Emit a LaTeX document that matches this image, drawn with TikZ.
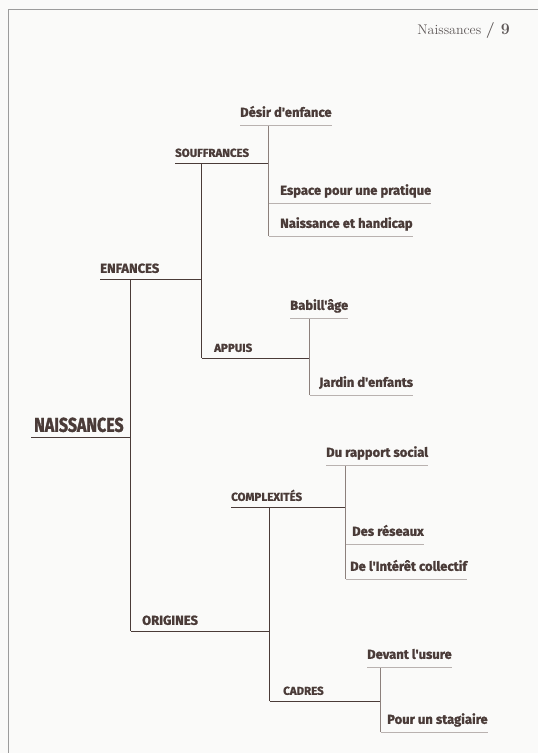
\documentclass[tikz,border=0pt]{standalone}
\usepackage{fontspec}
\newfontfamily\treefont{Fira Sans}[FakeBold=1.3]
\newfontfamily\rootfont{Fira Sans}[FakeStretch=0.8, FakeBold=1.5]
\definecolor{ink}{HTML}{4A3B38}
\definecolor{paleink}{HTML}{B9B2B0}
\definecolor{stemink}{HTML}{8C807C}
\definecolor{pagebg}{HTML}{FAFAF9}
\definecolor{edgegrey}{HTML}{9C9C9C}
\definecolor{headgrey}{HTML}{5E5858}

\begin{document}
\begin{tikzpicture}[x=1pt,y=-1pt]
  \tikzstyle{rootnode} = [anchor=south west, inner xsep=3pt, inner ysep=0pt, text depth=5pt, text=ink, font=\rootfont\bfseries\fontsize{20}{20}\selectfont]
  \tikzstyle{midnode} = [anchor=south west, inner sep=0pt, text depth=6pt, text=ink, font=\treefont\bfseries\fontsize{13}{13}\selectfont]
  \tikzstyle{subnode} = [anchor=south west, inner sep=0pt, text depth=6pt, text=ink, font=\treefont\bfseries\fontsize{11.5}{11.5}\selectfont]
  \tikzstyle{leafnode} = [anchor=south west, inner sep=0pt, text depth=8pt, text=ink, font=\treefont\bfseries\fontsize{13}{13}\selectfont]
  \tikzstyle{headnode} = [anchor=base east, inner sep=0pt, text=headgrey, font=\fontsize{14}{14}\selectfont]
  \tikzstyle{branchline} = [draw=ink, line width=0.9pt]
  \tikzstyle{stemline} = [draw=stemink, line width=0.7pt]
  \tikzstyle{leafline} = [draw=paleink, line width=0.7pt]

  \fill[pagebg] (0,0) rectangle (538,753);
  \useasboundingbox (0,0) rectangle (538,753);
  \draw[edgegrey, line width=1pt] (8,753) -- (8,9) -- (538,9);

  \node[headnode] (head) at (510,34) {Naissances~{\fontsize{16}{16}\selectfont\bfseries /~9}};

  % tree labels
  \node[rootnode] (nais) at (31,437) {NAISSANCES};
  \node[midnode] (enf) at (100,279) {ENFANCES};
  \node[midnode] (ori) at (142,631) {ORIGINES};
  \node[subnode] (souf) at (175,163) {SOUFFRANCES};
  \node[subnode] (app) at (214,358) {APPUIS};
  \node[subnode] (comp) at (231,507) {COMPLEXITÉS};
  \node[subnode] (cad) at (283,701) {CADRES};

  \node[leafnode] (desir) at (240,125) {Désir d'enfance};
  \node[leafnode] (espace) at (280,203) {Espace pour une pratique};
  \node[leafnode] (handi) at (280,236) {Naissance et handicap};
  \node[leafnode] (babil) at (290,318) {Babill'âge};
  \node[leafnode] (jardin) at (319,395) {Jardin d'enfants};
  \node[leafnode] (rapport) at (326,465) {Du rapport social};
  \node[leafnode] (reseaux) at (352,544) {Des réseaux};
  \node[leafnode] (interet) at (350,579) {De l'Intérêt collectif};
  \node[leafnode] (usure) at (367,667) {Devant l'usure};
  \node[leafnode] (stag) at (387,732) {Pour un stagiaire};

  % junctions
  \coordinate (jN) at (130.7,437);
  \coordinate (jE) at (201.7,279);
  \coordinate (jO) at (269.6,631);
  \coordinate (jS) at (268.6,163);
  \coordinate (jA) at (309.7,358);
  \coordinate (jC) at (345.7,507);
  \coordinate (jD) at (380.7,701);

  \draw[branchline] (nais.south west) -- (jN);
  \draw[branchline] (jN |- enf.south) -- (jN |- ori.south);
  \draw[branchline] (enf.south west) -- (jE);
  \draw[branchline] (jN |- ori.south) -- (jO);
  \draw[branchline] (jE |- souf.south) -- (jE |- app.south);
  \draw[branchline] (souf.south west) -- (jS);
  \draw[branchline] (jE |- app.south) -- (jA);
  \draw[branchline] (jO |- comp.south) -- (jO |- cad.south);
  \draw[branchline] (comp.south west) -- (jC);
  \draw[branchline] (jO |- cad.south) -- (jD);

  % leaves
  \draw[stemline] (jS |- desir.south) -- (jS |- handi.south);
  \draw[leafline] (desir.south west) -- (desir.south east);
  \draw[leafline] (jS |- espace.south) -- (espace.south east);
  \draw[leafline] (jS |- handi.south) -- (handi.south east);

  \draw[stemline] (jA |- babil.south) -- (jA |- jardin.south);
  \draw[leafline] (babil.south west) -- (babil.south east);
  \draw[leafline] (jA |- jardin.south) -- (jardin.south east);

  \draw[stemline] (jC |- rapport.south) -- (jC |- interet.south);
  \draw[leafline] (rapport.south west) -- (rapport.south east);
  \draw[leafline] (jC |- reseaux.south) -- (reseaux.south east);
  \draw[leafline] (jC |- interet.south) -- (interet.south east);

  \draw[stemline] (jD |- usure.south) -- (jD |- stag.south);
  \draw[leafline] (usure.south west) -- (usure.south east);
  \draw[leafline] (jD |- stag.south) -- (stag.south east);

\end{tikzpicture}
\end{document}
